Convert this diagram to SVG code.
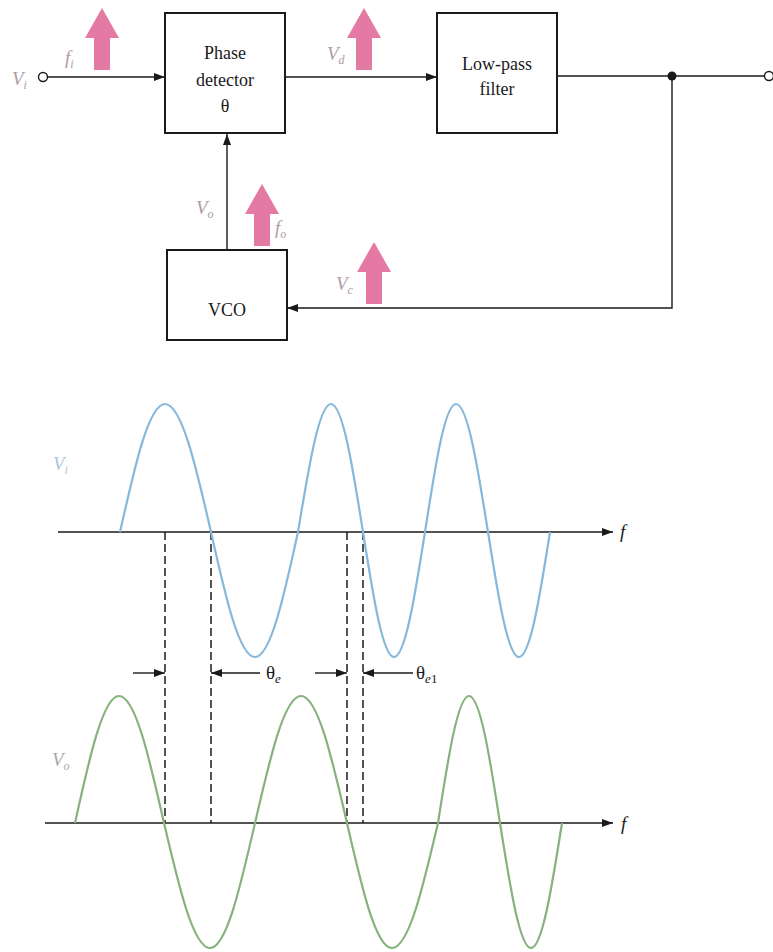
<svg xmlns="http://www.w3.org/2000/svg" width="773" height="952" viewBox="0 0 773 952">
<style>
.box{fill:#fff;stroke:#1a1a1a;stroke-width:2}
.txt{font-family:'Liberation Serif','DejaVu Serif','Times New Roman',serif;font-size:18px;fill:#1a1a1a;text-anchor:middle}
.wire{fill:none;stroke:#1a1a1a;stroke-width:1.4}
.lbl{font-family:'Liberation Serif','DejaVu Serif','Times New Roman',serif;font-style:italic;font-size:19px;fill:#b09aa6}
.sub{font-size:12px}
.pink{fill:#e47aa4}
.dash{stroke:#1a1a1a;stroke-width:1.5;stroke-dasharray:8 4;fill:none}
.axis{stroke:#1a1a1a;stroke-width:1.4;fill:none}
.blue{fill:none;stroke:#86b8dc;stroke-width:2.2}
.green{fill:none;stroke:#86b27e;stroke-width:2.2}
.ser{font-family:'Liberation Serif','DejaVu Serif','Times New Roman',serif;font-size:19px;fill:#1a1a1a}
</style>
<defs>
<marker id="ah" markerUnits="userSpaceOnUse" markerWidth="11" markerHeight="8" refX="11" refY="4" orient="auto">
<path d="M0,0 L11,4 L0,8 z" fill="#1a1a1a"/>
</marker>
<polygon id="bigarrow" points="0,0 17,30 8,30 8,62 -8,62 -8,30 -17,30"/>
</defs>

<g id="phase-detector">
<rect class="box" x="165" y="13" width="120" height="120"/>
<text class="txt" x="225" y="59">Phase</text>
<text class="txt" x="225" y="86">detector</text>
<text class="txt" x="225" y="112">θ</text>
</g>
<g id="low-pass-filter">
<rect class="box" x="437" y="13" width="120" height="120"/>
<text class="txt" x="497" y="70">Low-pass</text>
<text class="txt" x="497" y="95">filter</text>
</g>
<g id="vco">
<rect class="box" x="167" y="250" width="120" height="90"/>
<text class="txt" x="227" y="316">VCO</text>
</g>
<g id="input-terminal">
<circle cx="43" cy="77" r="4.5" fill="#fff" stroke="#1a1a1a" stroke-width="1.4"/>
<text class="lbl" x="12" y="85">V<tspan class="sub" dy="4">i</tspan></text>
</g>
<g id="output-terminal">
<circle cx="769" cy="76" r="4.5" fill="#fff" stroke="#1a1a1a" stroke-width="1.4"/>
</g>
<g id="junction">
<circle cx="672" cy="76" r="4.5" fill="#1a1a1a"/>
</g>

<g id="connectors">
<line class="wire" x1="47.5" y1="77" x2="165" y2="77" marker-end="url(#ah)"/>
<line class="wire" x1="285" y1="77" x2="437" y2="77" marker-end="url(#ah)"/>
<line class="wire" x1="557" y1="76" x2="764.5" y2="76"/>
<polyline class="wire" points="672,76 672,308 287,308" marker-end="url(#ah)"/>
<line class="wire" x1="227" y1="250" x2="227" y2="134" marker-end="url(#ah)"/>
</g>

<g id="signal-markers">
<use href="#bigarrow" class="pink" x="102" y="8"/>
<text class="lbl" x="65" y="64">f<tspan class="sub" dy="4">i</tspan></text>
<use href="#bigarrow" class="pink" x="364" y="8"/>
<text class="lbl" x="327" y="60">V<tspan class="sub" dy="4">d</tspan></text>
<use href="#bigarrow" class="pink" x="262" y="184"/>
<text class="lbl" x="196" y="214">V<tspan class="sub" dy="4">o</tspan></text>
<text class="lbl" x="275" y="234">f<tspan class="sub" dy="4">o</tspan></text>
<use href="#bigarrow" class="pink" x="374" y="242"/>
<text class="lbl" x="336" y="290">V<tspan class="sub" dy="4">c</tspan></text>
</g>

<g id="waveforms">
<line class="axis" x1="58" y1="532" x2="613" y2="532" marker-end="url(#ah)"/>
<text class="ser" font-style="italic" x="620" y="538">f</text>
<line class="axis" x1="45" y1="823" x2="613" y2="823" marker-end="url(#ah)"/>
<text class="ser" font-style="italic" x="621" y="830">f</text>

<line class="dash" x1="165" y1="532" x2="165" y2="823"/>
<line class="dash" x1="211" y1="532" x2="211" y2="823"/>
<line class="dash" x1="347" y1="532" x2="347" y2="823"/>
<line class="dash" x1="363" y1="532" x2="363" y2="823"/>

<path class="blue" d="M120,532 C134.7,466.5 148.7,404 165,404 C181.7,404 196,466.5 211,532 C225.3,596 239.1,657 255,657 C270.6,657 284,596 298,532 C308.8,466.5 319.1,404 331,404 C342.6,404 352.6,466.5 363,532 C373.1,596 382.8,657 394,657 C405.2,657 414.9,596 425,532 C435.1,466.5 444.8,404 456,404 C467.6,404 477.6,466.5 488,532 C498.1,596 507.8,657 519,657 C530.2,657 539.9,596 550,532"/>
<path class="green" d="M75,823 C89.3,758 103.1,696 119,696 C135.3,696 149.3,758 164,823 C179,887 193.3,948 210,948 C226.3,948 240.3,887 255,823 C270,758 284.3,696 301,696 C317.7,696 332,758 347,823 C361.7,887 375.7,948 392,948 C408.7,948 423,887 438,823 C448.1,758 457.8,696 469,696 C480.2,696 489.9,758 500,823 C510.1,887 519.8,948 531,948 C542.2,948 551.9,887 562,823"/>

<text class="lbl" x="53" y="470" style="fill:#aac6de">V<tspan class="sub" dy="4">i</tspan></text>
<text class="lbl" x="52" y="766" style="fill:#a8a8a8">V<tspan class="sub" dy="4">o</tspan></text>

<line class="wire" x1="133" y1="673" x2="165" y2="673" marker-end="url(#ah)"/>
<line class="wire" x1="260" y1="673" x2="211" y2="673" marker-end="url(#ah)"/>
<text class="ser" x="266" y="679">θ<tspan font-size="13" font-style="italic" dy="4">e</tspan></text>
<line class="wire" x1="315" y1="673" x2="347" y2="673" marker-end="url(#ah)"/>
<line class="wire" x1="413" y1="673" x2="363" y2="673" marker-end="url(#ah)"/>
<text class="ser" x="416" y="679">θ<tspan font-size="13" font-style="italic" dy="4">e</tspan><tspan font-size="13">1</tspan></text>
</g>
</svg>
